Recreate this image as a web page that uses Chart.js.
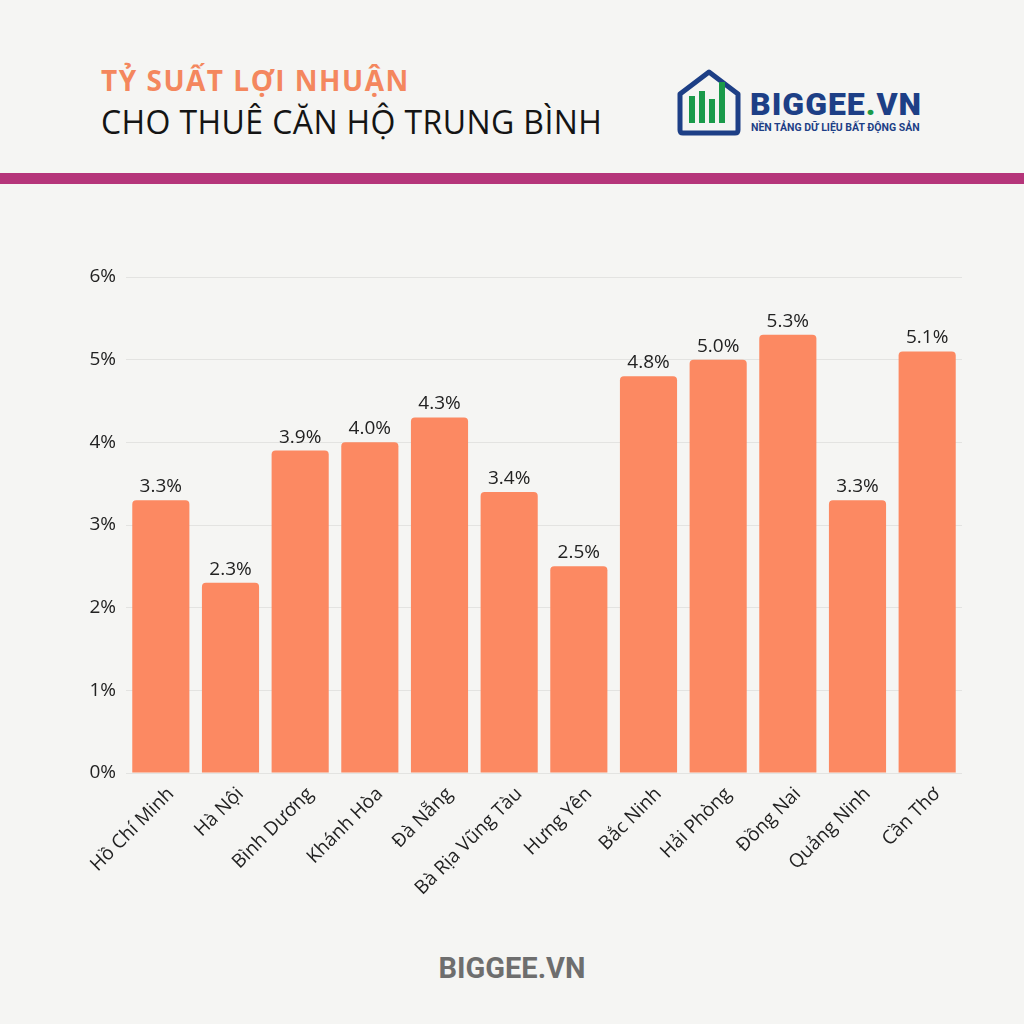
<!DOCTYPE html>
<html lang="vi">
  <head>
    <meta charset="UTF-8" />
    <title>Tỷ suất lợi nhuận cho thuê căn hộ trung bình</title>
    <script src="https://cdn.jsdelivr.net/npm/chart.js"></script>
    <style>
      body {
        margin: 0;
        width: 1024px;
        height: 1024px;
        background: #f5f5f3;
        position: relative;
        overflow: hidden;
        font-family: "Open Sans", sans-serif;
      }
      .title1 {
        position: absolute;
        left: 101px;
        top: 61px;
        font-size: 28px;
        font-weight: 700;
        color: #f4875e;
        letter-spacing: 1.5px;
      }
      .title2 {
        position: absolute;
        left: 101px;
        top: 100px;
        font-size: 32px;
        color: #141414;
        letter-spacing: 0.4px;
      }
      .divider {
        position: absolute;
        left: 0;
        top: 173px;
        width: 1024px;
        height: 11px;
        background: #b5357a;
      }
      .logo {
        position: absolute;
        left: 676px;
        top: 68px;
      }
      .logo-name {
        position: absolute;
        left: 750px;
        top: 85px;
        font-family: "Roboto", sans-serif;
        font-weight: 900;
        font-size: 32px;
        color: #1d3f86;
        letter-spacing: 1px;
      }
      .logo-sub {
        position: absolute;
        left: 751px;
        top: 121px;
        font-family: "Roboto", sans-serif;
        font-weight: 700;
        font-size: 10.5px;
        color: #1d3f86;
      }
      .footer {
        position: absolute;
        left: 0;
        width: 1024px;
        top: 951px;
        text-align: center;
        font-family: "Roboto", sans-serif;
        font-weight: 700;
        font-size: 29px;
        color: #6e6e6e;
      }
      #chartBox {
        position: absolute;
        left: 0;
        top: 250px;
        width: 1024px;
        height: 700px;
      }
    </style>
  </head>
  <body>
    <div class="title1">TỶ SUẤT LỢI NHUẬN</div>
    <div class="title2">CHO THUÊ CĂN HỘ TRUNG BÌNH</div>

    <svg class="logo" width="66" height="68" viewBox="0 0 66 68">
      <path d="M4 26 L33 4 L62 26 L62 62 Q62 65 59 65 L7 65 Q4 65 4 62 Z"
        fill="none" stroke="#1d3f86" stroke-width="5" stroke-linejoin="round" />
      <rect x="13" y="28" width="6" height="27" fill="#1a9a4a" />
      <rect x="23" y="23" width="6" height="32" fill="#1a9a4a" />
      <rect x="33" y="31" width="6" height="24" fill="#1a9a4a" />
      <rect x="43" y="14" width="6" height="41" fill="#1a9a4a" />
    </svg>
    <div class="logo-name">BIGGEE<span style="color:#1a9a4a">.</span>VN</div>
    <div class="logo-sub">NỀN TẢNG DỮ LIỆU BẤT ĐỘNG SẢN</div>

    <div class="divider"></div>

    <div id="chartBox"><canvas id="barChart"></canvas></div>

    <div class="footer">BIGGEE.VN</div>

    <script>
      // data
      var provinces = [
        "Hồ Chí Minh",
        "Hà Nội",
        "Bình Dương",
        "Khánh Hòa",
        "Đà Nẵng",
        "Bà Rịa Vũng Tàu",
        "Hưng Yên",
        "Bắc Ninh",
        "Hải Phòng",
        "Đồng Nai",
        "Quảng Ninh",
        "Cần Thơ",
      ];
      var yieldPct = [3.3, 2.3, 3.9, 4.0, 4.3, 3.4, 2.5, 4.8, 5.0, 5.3, 3.3, 5.1];
      var yTicks = [0, 1, 2, 3, 4, 5, 6];

      var labelFont = '"Open Sans", sans-serif';

      // small plugin to write the value above each bar
      var valueLabels = {
        id: "valueLabels",
        afterDatasetsDraw: function (chart) {
          var ctx = chart.ctx;
          var meta = chart.getDatasetMeta(0);
          ctx.save();
          ctx.font = "19px " + labelFont;
          ctx.fillStyle = "#222222";
          ctx.textAlign = "center";
          ctx.textBaseline = "bottom";
          meta.data.forEach(function (bar, i) {
            ctx.fillText(yieldPct[i].toFixed(1) + "%", bar.x, bar.y - 4);
          });
          ctx.restore();
        },
      };

      new Chart(document.getElementById("barChart").getContext("2d"), {
        type: "bar",
        data: {
          labels: provinces,
          datasets: [
            {
              data: yieldPct,
              backgroundColor: "#fc8962",
              borderRadius: { topLeft: 4, topRight: 4 },
              borderSkipped: "bottom",
              categoryPercentage: 0.82,
              barPercentage: 1,
            },
          ],
        },
        options: {
          responsive: true,
          maintainAspectRatio: false,
          animation: false,
          layout: { padding: { top: 27, right: 62, left: 0, bottom: 0 } },
          plugins: {
            legend: { display: false },
            tooltip: { enabled: false },
          },
          scales: {
            x: {
              grid: { display: false },
              border: { display: false },
              ticks: {
                color: "#222222",
                font: { family: labelFont, size: 19 },
                minRotation: 45,
                maxRotation: 45,
                padding: 2,
                labelOffset: 10,
              },
              afterFit: function (scale) {
                scale.height = 177;
              },
            },
            y: {
              min: 0,
              max: 6,
              afterBuildTicks: function (scale) {
                scale.ticks = yTicks.map(function (v) {
                  return { value: v };
                });
              },
              grid: { color: "#e3e3e1", drawTicks: false },
              border: { display: false },
              ticks: {
                color: "#222222",
                font: { family: labelFont, size: 19 },
                padding: 10,
                callback: function (v) {
                  return v + "%";
                },
              },
              afterFit: function (scale) {
                scale.width = 126;
              },
            },
          },
        },
        plugins: [valueLabels],
      });
    </script>
  </body>
</html>
